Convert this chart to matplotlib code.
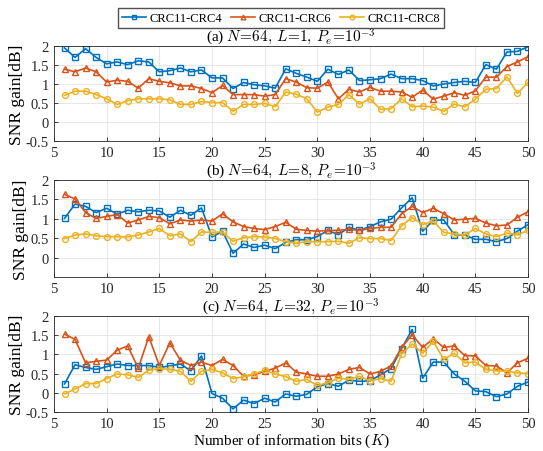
"""SNR gain of CRC11 vs outer CRC lengths, three list sizes."""
import matplotlib
matplotlib.use("Agg")
import matplotlib.pyplot as plt
import numpy as np

plt.rcParams["font.family"] = ["Liberation Serif", "DejaVu Serif"]
plt.rcParams["mathtext.fontset"] = "cm"

K = np.arange(6, 51)

# (a) N=64, L=1
a_crc4 = [1.95, 1.70, 1.93, 1.70, 1.53, 1.58, 1.51, 1.61, 1.58, 1.32, 1.35, 1.42, 1.32, 1.37,
          1.16, 1.16, 0.88, 1.04, 0.98, 0.95, 0.89, 1.40, 1.28, 1.18, 1.07, 1.39, 1.25, 1.37,
          1.09, 1.11, 1.14, 1.26, 1.14, 1.14, 1.09, 0.95, 1.00, 1.04, 1.07, 1.04, 1.51, 1.39,
          1.84, 1.86, 1.98]
a_crc6 = [1.39, 1.32, 1.42, 1.32, 1.05, 1.10, 1.07, 0.89, 1.14, 1.07, 1.03, 0.95, 0.95, 0.88,
          0.77, 0.96, 0.72, 0.72, 0.72, 0.68, 0.72, 1.14, 1.05, 0.90, 0.89, 1.05, 0.61, 0.86,
          0.79, 0.91, 0.81, 0.81, 0.79, 0.65, 0.84, 0.60, 0.68, 0.77, 0.70, 0.82, 1.18, 1.18,
          1.46, 1.58, 1.72]
a_crc8 = [0.70, 0.81, 0.81, 0.72, 0.61, 0.46, 0.56, 0.61, 0.61, 0.61, 0.58, 0.46, 0.46, 0.54,
          0.51, 0.51, 0.28, 0.46, 0.46, 0.49, 0.40, 0.79, 0.73, 0.61, 0.26, 0.39, 0.46, 0.72,
          0.47, 0.61, 0.33, 0.35, 0.61, 0.40, 0.42, 0.39, 0.28, 0.47, 0.40, 0.60, 0.86, 0.88,
          1.19, 0.75, 1.04]

# (b) N=64, L=8
b_crc4 = [1.01, 1.38, 1.32, 1.16, 1.27, 1.12, 1.22, 1.18, 1.22, 1.20, 1.04, 1.22, 1.09, 1.28,
          0.53, 0.68, 0.11, 0.35, 0.26, 0.32, 0.23, 0.39, 0.46, 0.46, 0.54, 0.70, 0.59, 0.78,
          0.70, 0.80, 0.92, 0.99, 1.28, 1.54, 0.68, 0.96, 0.97, 0.59, 0.58, 0.47, 0.47, 0.41,
          0.49, 0.68, 0.85]
b_crc6 = [1.63, 1.51, 1.16, 1.01, 1.06, 1.11, 0.89, 0.97, 1.06, 1.03, 0.87, 0.97, 0.94, 0.97,
          0.94, 1.13, 0.92, 0.80, 0.75, 0.72, 0.80, 0.91, 0.73, 0.70, 0.68, 0.70, 0.70, 0.73,
          0.70, 0.75, 0.78, 0.78, 1.13, 1.32, 1.16, 1.27, 1.13, 0.97, 0.99, 1.01, 0.89, 0.82,
          0.84, 1.04, 1.18]
b_crc8 = [0.49, 0.58, 0.61, 0.56, 0.54, 0.54, 0.53, 0.58, 0.66, 0.75, 0.56, 0.61, 0.41, 0.66,
          0.65, 0.66, 0.42, 0.51, 0.54, 0.53, 0.49, 0.41, 0.37, 0.41, 0.41, 0.41, 0.42, 0.37,
          0.51, 0.49, 0.49, 0.44, 0.82, 1.03, 0.85, 0.94, 0.65, 0.61, 0.58, 0.75, 0.61, 0.54,
          0.63, 0.59, 0.70]

# (c) N=64, L=32
c_crc4 = [0.23, 0.73, 0.66, 0.61, 0.68, 0.75, 0.71, 0.71, 0.71, 0.66, 0.70, 0.75, 0.57, 0.96,
          -0.02, -0.14, -0.42, -0.19, -0.28, -0.14, -0.24, -0.03, -0.09, -0.04, 0.16, 0.24,
          0.17, 0.33, 0.30, 0.31, 0.47, 0.63, 1.15, 1.65, 0.38, 0.80, 0.80, 0.49, 0.30, 0.05,
          0.03, -0.10, -0.03, 0.17, 0.28]
c_crc6 = [1.53, 1.39, 0.78, 0.82, 0.85, 1.11, 1.22, 0.64, 1.46, 0.71, 1.30, 0.85, 0.71, 0.80,
          0.71, 0.87, 0.71, 0.43, 0.47, 0.56, 0.64, 0.78, 0.54, 0.49, 0.43, 0.43, 0.49, 0.61,
          0.66, 0.49, 0.56, 0.70, 1.18, 1.51, 1.18, 1.41, 1.18, 1.22, 0.97, 0.96, 0.71, 0.70,
          0.52, 0.78, 0.90]
c_crc8 = [-0.03, 0.10, 0.24, 0.24, 0.37, 0.49, 0.47, 0.40, 0.59, 0.63, 0.61, 0.56, 0.30, 0.56,
          0.61, 0.52, 0.37, 0.42, 0.49, 0.59, 0.49, 0.42, 0.30, 0.35, 0.19, 0.26, 0.38, 0.35,
          0.43, 0.31, 0.37, 0.30, 1.01, 1.27, 1.03, 1.34, 0.87, 1.03, 0.78, 0.80, 0.61, 0.57,
          0.56, 0.52, 0.50]

LABELS = ["CRC11-CRC4", "CRC11-CRC6", "CRC11-CRC8"]
COLORS = ["#0072BD", "#D95319", "#EDB120"]
MARKERS = ["s", "^", "o"]
TITLES = [r"(a) $N\!=\!64,\, L\!=\!1,\, P_e\!=\!10^{-3}$",
          r"(b) $N\!=\!64,\, L\!=\!8,\, P_e\!=\!10^{-3}$",
          r"(c) $N\!=\!64,\, L\!=\!32,\, P_e\!=\!10^{-3}$"]
PANELS = [(a_crc4, a_crc6, a_crc8), (b_crc4, b_crc6, b_crc8), (c_crc4, c_crc6, c_crc8)]
YTICKS = [[-0.5, 0, 0.5, 1, 1.5, 2], [0, 0.5, 1, 1.5, 2], [-0.5, 0, 0.5, 1, 1.5, 2]]

fig = plt.figure(figsize=(5.43, 4.52), dpi=100)
left, width = 0.0994, 0.873
boxes = [(0.686, 0.210), (0.385, 0.2146), (0.0863, 0.2124)]

handles = []
for i, (bottom, h) in enumerate(boxes):
    ax = fig.add_axes([left, bottom, width, h])
    for series, c, m, lab in zip(PANELS[i], COLORS, MARKERS, LABELS):
        ln, = ax.plot(K, series, color=c, marker=m, markersize=4.2, markerfacecolor="none",
                      markeredgewidth=1.0, linewidth=1.2, label=lab)
        if i == 0:
            handles.append(ln)
    ax.set_xlim(5, 50)
    ax.set_ylim(-0.5, 2)
    ax.set_xticks(np.arange(5, 51, 5))
    ax.set_yticks(YTICKS[i])
    ax.set_yticklabels([f"{t:g}" for t in YTICKS[i]])
    ax.tick_params(labelsize=10.5, direction="in", length=3, width=0.6, colors="#262626")
    ax.grid(True, color="#e3e3e3", linewidth=0.6)
    ax.set_axisbelow(True)
    for s in ax.spines.values():
        s.set_color("#262626")
        s.set_linewidth(0.6)
    ax.set_title(TITLES[i], fontsize=11, pad=3.5)
    ax.set_ylabel("SNR gain[dB]", fontsize=12.5, labelpad=1)
    if i == 2:
        ax.set_xlabel(r"Number of information bits ($K$)", fontsize=11, labelpad=1)

fig.legend(handles=handles, loc="upper center", ncol=3, bbox_to_anchor=(0.5175, 0.993),
           fontsize=9, frameon=True, fancybox=False, edgecolor="#262626", markerscale=0.8,
           handlelength=1.9, handletextpad=0.3, columnspacing=0.7, borderpad=0.3)

fig.savefig("out.png", dpi=100)
